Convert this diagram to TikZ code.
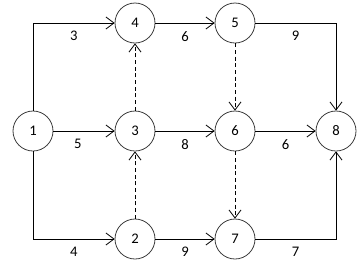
\documentclass[tikz,border=0pt]{standalone}
\usepackage{fontspec}
\setmainfont{Carlito}
\usepackage{tikz}
\usetikzlibrary{arrows.meta}
\definecolor{ringx}{HTML}{3C3C3C}
\tikzset{
  ev/.style={circle,draw=ringx,line width=0.6pt,minimum size=30pt,inner sep=0pt,font=\fontsize{11}{13}\selectfont},
  ar/.style={-{Straight Barb[length=6pt,width=9pt]},line width=0.6pt},
  dm/.style={ar,dash pattern=on 3pt off 2pt},
  lb/.style={font=\fontsize{11}{13}\selectfont,inner sep=0pt,below=6pt}
}
\begin{document}
\begin{tikzpicture}[x=0.75pt,y=-0.75pt]
\useasboundingbox (0,0) rectangle (364,265);
\node[ev] (e1) at (33,131) {1};
\node[ev] (e4) at (135,23) {4};
\node[ev] (e5) at (235,23) {5};
\node[ev] (e3) at (135,131) {3};
\node[ev] (e6) at (235,131) {6};
\node[ev] (e8) at (336,131) {8};
\node[ev] (e2) at (135,239) {2};
\node[ev] (e7) at (235,239) {7};
\draw[ar] (e1) |- node[lb,pos=0.75]{3} (e4);
\draw[ar] (e1) -- node[lb,pos=0.4]{5} (e3);
\draw[ar] (e1) |- node[lb,pos=0.75]{4} (e2);
\draw[ar] (e4) -- node[lb]{6} (e5);
\draw[ar] (e5) -| node[lb,pos=0.25]{9} (e8);
\draw[ar] (e3) -- node[lb]{8} (e6);
\draw[ar] (e6) -- node[lb]{6} (e8);
\draw[ar] (e2) -- node[lb]{9} (e7);
\draw[ar] (e7) -| node[lb,pos=0.25]{7} (e8);
\draw[dm] (e3) -- (e4);
\draw[dm] (e2) -- (e3);
\draw[dm] (e5) -- (e6);
\draw[dm] (e6) -- (e7);
\end{tikzpicture}
\end{document}
